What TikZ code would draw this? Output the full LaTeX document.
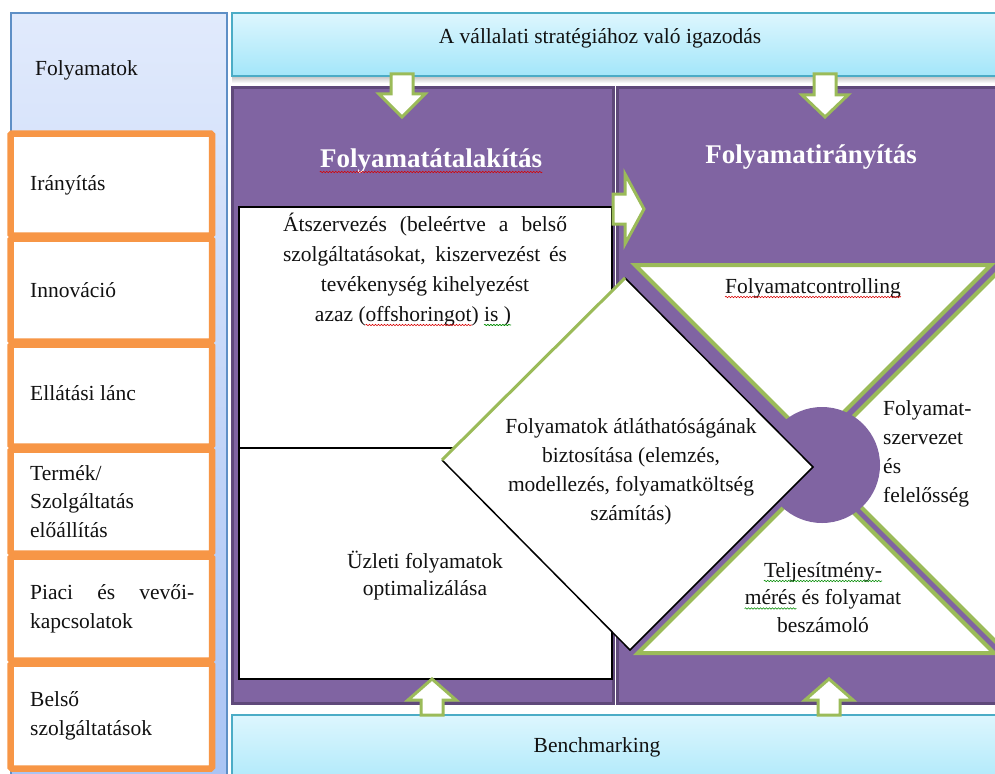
\documentclass[tikz,border=0pt]{standalone}
\usepackage{fontspec}
\setmainfont{Liberation Serif}
\usetikzlibrary{decorations.pathmorphing}
\definecolor{purp}{HTML}{8064A2}
\definecolor{purpdark}{HTML}{5F497A}
\definecolor{grn}{HTML}{9BBB59}
\definecolor{orng}{HTML}{F79646}
\definecolor{cyanline}{HTML}{4BACC6}
\definecolor{cyantop}{HTML}{DDF6FE}
\definecolor{cyanbot}{HTML}{A3E6F9}
\definecolor{bluetop}{HTML}{E1EAFC}
\definecolor{bluebot}{HTML}{A8C3F4}
\definecolor{blueline}{HTML}{5E8FC6}
\definecolor{ink}{HTML}{111111}

\tikzset{
  lbl/.style={text=ink, inner sep=0pt, font=\fontsize{21.5}{28.5}\selectfont},
  titletext/.style={text=white, inner sep=0pt, anchor=base,
    font=\bfseries\fontsize{27}{32}\selectfont},
  panel/.style={fill=purp, draw=purpdark, line width=3pt},
  cyanbox/.style={top color=cyantop, bottom color=cyanbot, draw=cyanline, line width=1.5pt},
  whitebox/.style={fill=white, draw=black, line width=1.6pt},
  rowbox/.style={fill=white, draw=orng, line width=6.5pt, rounded corners=1.5pt},
  tri/.style={fill=white, draw=grn, line width=4pt, line join=miter},
  blockarrow/.style={fill=white, draw=grn, line width=3pt, line join=miter},
  spellred/.style={draw=red!85!black, line width=0.6pt, decorate,
    decoration={snake, amplitude=0.7pt, segment length=3pt}},
  spellgreen/.style={draw=green!55!black, line width=0.6pt, decorate,
    decoration={snake, amplitude=0.7pt, segment length=3pt}},
}

% a word with a wavy proofing mark under it
\newcommand\spellmark[2]{\tikz[baseline=(sw.base)]{%
  \node[inner sep=0pt, anchor=base] (sw) {#2};%
  \draw[#1, overlay] ([yshift=-4pt]sw.base west) -- ([yshift=-4pt]sw.base east);}}

\begin{document}
\begin{tikzpicture}[x=1pt, y=-1pt]
\useasboundingbox (0,0) rectangle (995,773);
\clip (0,0) rectangle (995,773);

% ---- left column: process areas ----
\path[top color=bluetop, bottom color=bluebot, draw=blueline, line width=1.5pt]
  (11,13) rectangle (227,800);
\foreach \ya/\yb in {132/237, 237/343, 343/448, 448/555, 555/662, 662/770}
  \draw[rowbox] (10.5,\ya+1.5) rectangle (212,\yb-1.5);

% (multi-line labels are placed at the baseline of their last line)
\node[lbl, anchor=base west] (folyamatok) at (35,76) {Folyamatok};
\node[lbl, anchor=base west] (iranyitas) at (30,190) {Irányítás};
\node[lbl, anchor=base west] (innovacio) at (30,297) {Innováció};
\node[lbl, anchor=base west] (ellatasi) at (30,400) {Ellátási lánc};
\node[lbl, anchor=base west, align=left] (termek) at (30,537)
  {Termék/\\Szolgáltatás\\előállítás};
\node[lbl, anchor=base west, align=left] (piaci) at (30,628)
  {\makebox[164pt][s]{Piaci és vevői-}\\kapcsolatok};
\node[lbl, anchor=base west, align=left] (belso) at (30,735)
  {Belső\\szolgáltatások};

% ---- top and bottom bands ----
\shade[top color=gray!55, bottom color=white] (232,75) rectangle (1000,83);
\path[cyanbox] (232,13) rectangle (1000,76);
\path[cyanbox] (232,715) rectangle (1000,800);
\node[lbl, anchor=base] (strategia) at (600,44) {A vállalati stratégiához való igazodás};
\node[lbl, anchor=base] (benchmark) at (597,752) {Benchmarking};

% ---- the two purple panels ----
\path[panel] (232,88) rectangle (613,703);
\path[panel] (617,88) rectangle (1005,703);

\node[titletext] (atalakitas) at (431,167) {Folyamatátalakítás};
\node[titletext] (iranyit) at (811,163) {Folyamatirányítás};
\draw[spellred] ([yshift=-5pt]atalakitas.base west) -- ([yshift=-5pt]atalakitas.base east);

% ---- left panel: two white boxes ----
\path[whitebox] (239,207) rectangle (612,448);
\path[whitebox] (239,448) rectangle (612,679);

\node[lbl, anchor=base, align=center, font=\fontsize{21.5}{30}\selectfont] (atszervezes) at (425,321)
  {\makebox[284pt][s]{Átszervezés (beleértve a belső}\\
   \makebox[284pt][s]{szolgáltatásokat, kiszervezést és}\\
   tevékenység kihelyezést\hspace*{24pt}\\
   azaz (\spellmark{spellred}{offshoringot}) \spellmark{spellgreen}{is )}\hspace*{24pt}};
\node[lbl, anchor=base, align=center, font=\fontsize{21.5}{27}\selectfont] (uzleti) at (425,595)
  {Üzleti folyamatok\\optimalizálása};

% ---- right panel: X of triangles with the hub ----
\coordinate (tl) at (635,265);
\coordinate (tr) at (991,265);
\coordinate (ta) at (813,443);
\coordinate (ra) at (812,458);
\coordinate (rt) at (1012,258);
\coordinate (rb) at (1012,658);
\coordinate (bl) at (638,653);
\coordinate (br) at (994,653);
\coordinate (ba) at (816,475);
\draw[tri] (tl) -- (tr) -- (ta) -- cycle;
\draw[tri] (ra) -- (rt) -- (rb) -- cycle;
\draw[tri] (bl) -- (br) -- (ba) -- cycle;
\fill[purp] (822,465) circle[radius=58];

\node[lbl, anchor=base] (controlling) at (813,293) {Folyamatcontrolling};
\draw[spellred] ([yshift=-4pt]controlling.base west) -- ([yshift=-4pt]controlling.base east);
\node[lbl, anchor=base west, align=left, font=\fontsize{21.5}{29}\selectfont] (szervezet) at (883,502)
  {Folyamat-\\szervezet\\és\\felelősség};
\node[lbl, anchor=base, align=center, font=\fontsize{21.5}{27.5}\selectfont] (teljesitmeny) at (823,632)
  {\spellmark{spellgreen}{Teljesítmény-}\\\spellmark{spellgreen}{mérés} és folyamat\\beszámoló};

% ---- central diamond ----
\coordinate (dt) at (625,278);
\coordinate (dr) at (813,467);
\coordinate (db) at (630,650);
\coordinate (dl) at (442,460);
\fill[white] (dt) -- (dr) -- (db) -- (dl) -- cycle;
\draw[black, line width=1.5pt, line join=miter] (dl) -- (db) -- (dr) -- (dt);
\draw[grn, line width=3pt] (dl) -- (dt);
\node[lbl, anchor=base, align=center, font=\fontsize{21.5}{29}\selectfont] (atlathato) at (631,520)
  {Folyamatok átláthatóságának\\biztosítása (elemzés,\\modellezés, folyamatköltség\\számítás)};

% ---- block arrows ----
\draw[blockarrow] (391,74) -- (413,74) -- (413,94) -- (425,94) -- (402,117) -- (379,94) -- (391,94) -- cycle;
\draw[blockarrow] (814,74) -- (836,74) -- (836,95) -- (848,95) -- (825,117) -- (802,95) -- (814,95) -- cycle;
\draw[blockarrow] (421,715) -- (443,715) -- (443,700) -- (456,700) -- (432,679) -- (408,700) -- (421,700) -- cycle;
\draw[blockarrow] (818,715) -- (840,715) -- (840,700) -- (853,700) -- (829,679) -- (805,700) -- (818,700) -- cycle;
\draw[blockarrow] (613,194) -- (625,194) -- (625,174) -- (644,209) -- (625,244) -- (625,224) -- (613,224) -- cycle;
\end{tikzpicture}
\end{document}
